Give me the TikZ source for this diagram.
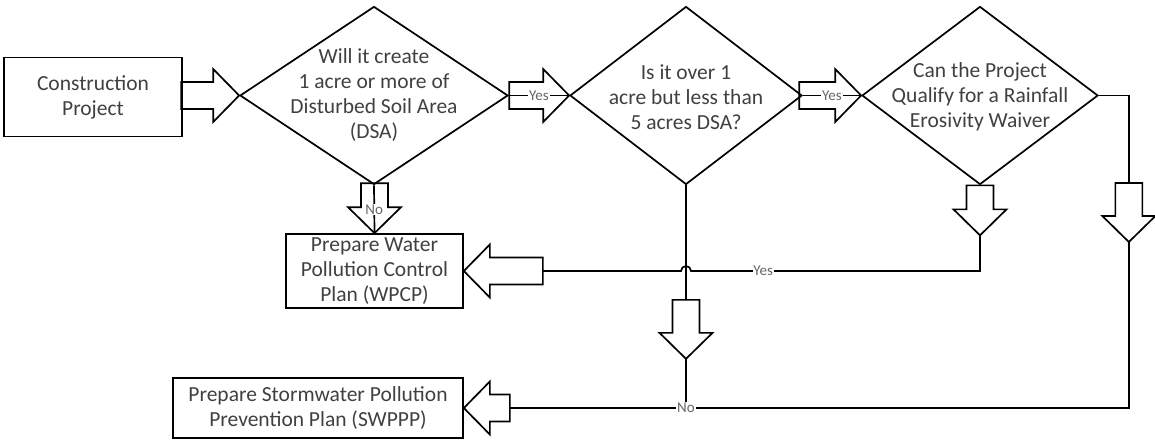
\documentclass[tikz,border=0pt]{standalone}
\usepackage{fontspec}
\setmainfont{Carlito}
\usetikzlibrary{shapes.geometric,calc}

% Block arrows: tip at #1, shaft length #2 (head 26 long, 53 wide, shaft 27 wide)
\newcommand\blkR[2]{\draw[blk] (#1) -- ++(-26,-26.5) -- ++(0,13) -- ++(-#2,0) -- ++(0,27) -- ++(#2,0) -- ++(0,13) -- cycle;}
\newcommand\blkL[2]{\draw[blk] (#1) -- ++(26,-26.5) -- ++(0,13) -- ++(#2,0) -- ++(0,27) -- ++(-#2,0) -- ++(0,13) -- cycle;}
\newcommand\blkD[2]{\draw[blk] (#1) -- ++(-26.5,-26) -- ++(13,0) -- ++(0,-#2) -- ++(27,0) -- ++(0,#2) -- ++(13,0) -- cycle;}

\begin{document}
\begin{tikzpicture}[x=1pt,y=-1pt,
  line width=1.7pt, line join=miter,
  maintext/.style={align=center, font=\fontsize{21.5}{25}\selectfont, text=black!75},
  box/.style={draw, rectangle, inner sep=0pt, maintext},
  decision/.style={draw, diamond, inner sep=0pt, minimum height=178pt},
  dtext/.style={maintext, inner sep=0pt},
  blk/.style={draw, line width=1.7pt},
  conn/.style={draw, line width=1.7pt},
  lbl/.style={fill=white, inner sep=0.8pt, font=\fontsize{15}{15}\selectfont, text=black!60}]

\useasboundingbox (0,0) rectangle (1155,441);

% process boxes
\node[box, minimum width=178pt, minimum height=79pt] (cp) at (93,97) {Construction\\Project};
\node[box, minimum width=177pt, minimum height=74pt] (wpcp) at (374.5,271) {Prepare Water\\Pollution Control\\Plan (WPCP)};
\node[box, minimum width=290pt, minimum height=60pt] (swppp) at (318,408) {Prepare Stormwater Pollution\\Prevention Plan (SWPPP)};

% decisions
\node[decision, minimum width=268pt] (d1) at (374,95.5) {};
\node[dtext] (d1t) at (d1) {Will it create\\1 acre or more of\\Disturbed Soil Area\\(DSA)};
\node[decision, minimum width=232pt] (d2) at (686,95.5) {};
\node[dtext] (d2t) at ($(d2)+(0,1.5)$) {Is it over 1\\acre but less than\\5 acres DSA?};
\node[decision, minimum width=236pt] (d3) at (980,95.5) {};
\node[dtext] (d3t) at ($(d3)+(0,1.5)$) {Can the Project\\Qualify for a Rainfall\\Erosivity Waiver};

% construction project -> first decision
\blkR{d1.west}{32}

% first decision -> second decision
\draw[conn] (d1.east) -- node[lbl]{Yes} (d2.west);
\blkR{d2.west}{34}

% second decision -> third decision
\draw[conn] (d2.east) -- node[lbl]{Yes} (d3.west);
\blkR{d3.west}{36}

% first decision -> WPCP
\draw[conn] (d1.south) -- node[lbl]{No} (wpcp.north);
\blkD{wpcp.north}{24}

% third decision (yes) -> WPCP, hopping over the vertical line
\coordinate (d3tip) at ($(d3.south)+(0,50)$);
\coordinate (yc) at (d3.south |- wpcp.east);
\coordinate (wend) at ($(wpcp.east)+(79,0)$);
\blkD{d3tip}{24}
\blkL{wpcp.east}{53}
\draw[conn] (d3tip) -- (yc) -- node[lbl, pos=0.75]{Yes} ($(d2.south |- yc)+(5,0)$)
  arc[start angle=0, end angle=-180, radius=5] -- (wend);

% second decision (no) -> SWPPP line
\coordinate (d2tip) at ($(d2.south)+(0,173.5)$);
\draw[conn] (d2.south) -- ($(d2tip)+(0,-59)$);
\blkD{d2tip}{33}

% third decision (no) -> SWPPP
\coordinate (rc) at ($(d3.east)+(30,0)$);
\coordinate (rtip) at ($(rc)+(0,146.5)$);
\coordinate (send) at ($(swppp.east)+(46,0)$);
\draw[conn] (d3.east) -- (rc) -- ($(rtip)+(0,-59)$);
\blkD{rtip}{33}
\draw[conn] (rtip) |- (send);
\blkL{swppp.east}{20}
\draw[conn] (d2tip) -- (d2tip |- swppp.east) node[lbl]{No};

\end{tikzpicture}
\end{document}
